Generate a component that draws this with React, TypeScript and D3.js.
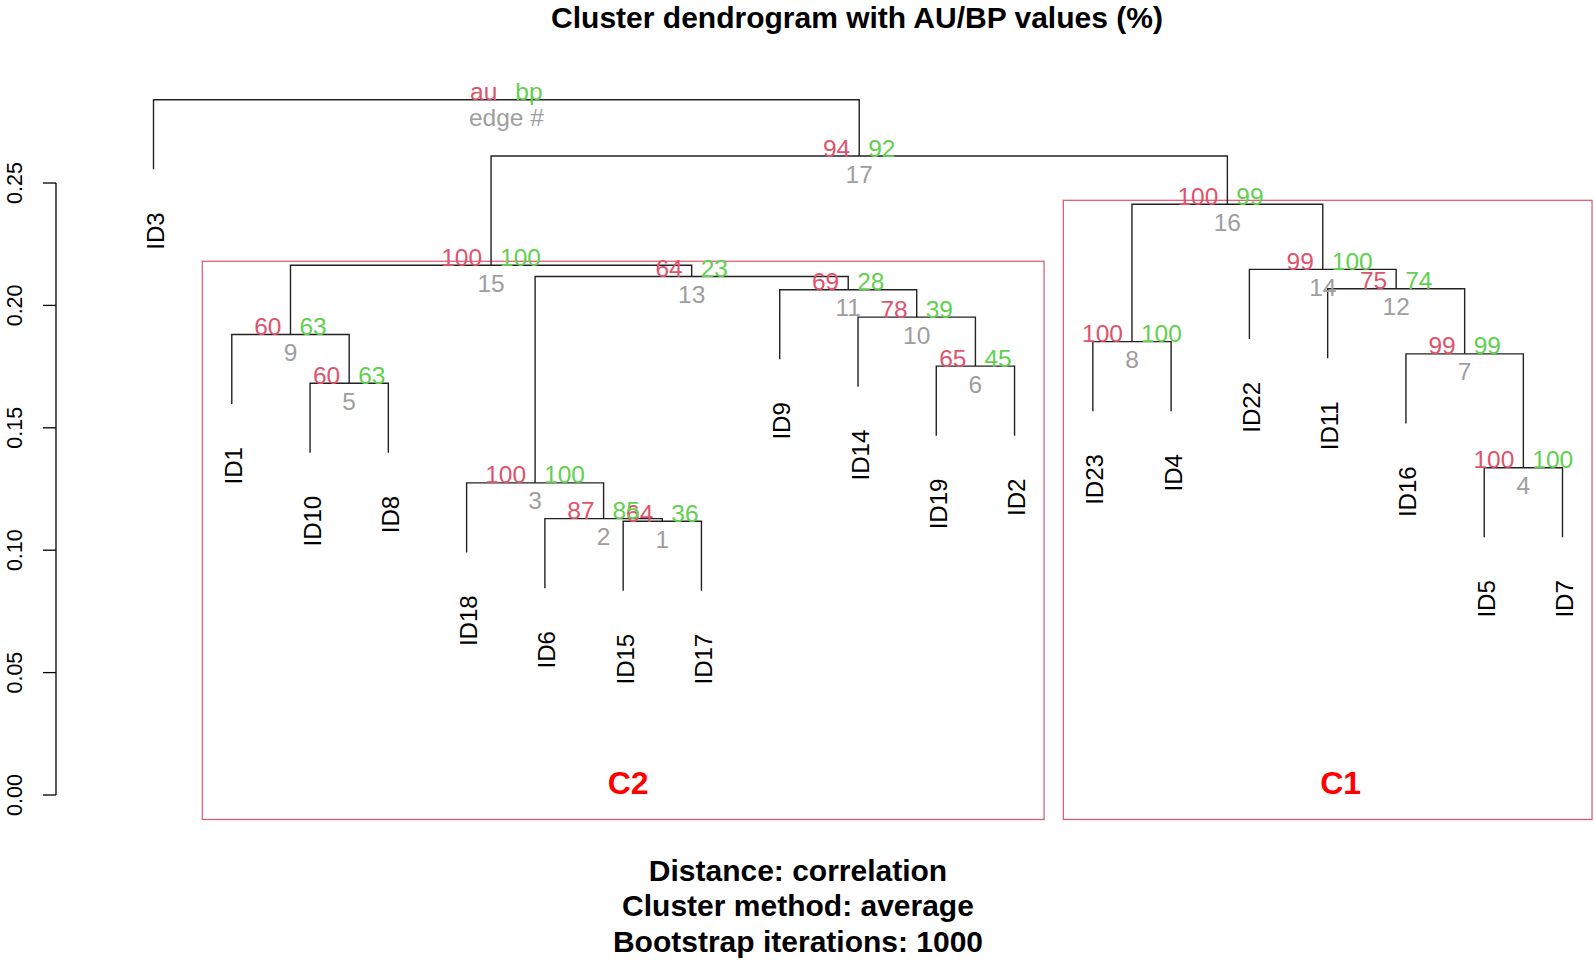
import React from "react";
import * as d3 from "d3";

const width = 1594;
const height = 962;

// leaves in plotting order
const leafOrder = [
  "ID3", "ID1", "ID10", "ID8", "ID18", "ID6", "ID15", "ID17", "ID9", "ID14",
  "ID19", "ID2", "ID23", "ID4", "ID22", "ID11", "ID16", "ID5", "ID7"
];

// merges, hclust style: a string is a leaf, a number is an earlier edge
const mergeLeft: (string | number)[] = [
  "ID15", "ID6", "ID18", "ID5", "ID10", "ID19", "ID16", "ID23", "ID1",
  "ID14", "ID9", "ID11", 3, "ID22", 9, 8, 15, "ID3"
];
const mergeRight: (string | number)[] = [
  "ID17", 1, 2, "ID7", "ID8", "ID2", 4, "ID4", 5, 6, 10, 7, 11, 12, 13, 14, 16, 17
];
const mergeHeights = [
  0.1118, 0.1129, 0.1275, 0.1337, 0.1682, 0.1752, 0.1802, 0.1852, 0.1881,
  0.1952, 0.2064, 0.2068, 0.2118, 0.2147, 0.2164, 0.2413, 0.2610, 0.2840
];
const auValues = [64, 87, 100, 100, 60, 65, 99, 100, 60, 78, 69, 75, 64, 99, 100, 100, 94];
const bpValues = [36, 85, 100, 100, 63, 45, 99, 100, 63, 39, 28, 74, 23, 100, 100, 99, 92];

// significant clusters drawn with pvrect, and their names
const clusterEdges = [15, 16];
const clusterNames = ["C2", "C1"];

const subtitleLines = [
  "Distance: correlation",
  "Cluster method: average",
  "Bootstrap iterations: 1000"
];

const auColor = "#DF536B";
const bpColor = "#61D04F";
const edgeColor = "#9E9E9E";
const font = "'Liberation Sans', Arial, Helvetica, sans-serif";

const x = d3.scaleLinear().domain([1, leafOrder.length]).range([153.5, 1562.5]);
const y = d3.scaleLinear().domain([0, 0.25]).range([795, 183]);

const maxHeight = d3.max(mergeHeights) as number;
const hang = 0.1 * maxHeight;
const floatPx = 8; // 1% of the user range
const rectPad = 4; // ywd / 200
const rectBottom = 819.5;
const labelShift = [5, 13]; // C2 / C1 text sits a bit right of the box centre

type Pos = { x: number; h: number };

function layout() {
  const nodes: Pos[] = [];
  const segs: [number, number][][] = [];
  const leafEnds: { name: string; x: number; h: number }[] = [];
  mergeHeights.forEach((h, i) => {
    const kids = [mergeLeft[i], mergeRight[i]].map((c) => {
      if (typeof c === "number") return { x: nodes[c - 1].x, top: nodes[c - 1].h };
      const lx = x(leafOrder.indexOf(c) + 1);
      leafEnds.push({ name: c, x: lx, h: h - hang });
      return { x: lx, top: h - hang };
    });
    nodes.push({ x: (kids[0].x + kids[1].x) / 2, h });
    segs.push([
      [kids[0].x, y(kids[0].top)],
      [kids[0].x, y(h)],
      [kids[1].x, y(h)],
      [kids[1].x, y(kids[1].top)]
    ]);
  });
  return { nodes, segs, leafEnds };
}

const membersOf = (e: number): string[] =>
  [mergeLeft[e - 1], mergeRight[e - 1]].flatMap((c) =>
    typeof c === "number" ? membersOf(c) : [c]
  );

export default function App() {
  const { nodes, segs, leafEnds } = layout();
  const line = d3.line();
  const mx = (x(2) - x(1)) * 0.377;
  const ticks = y.ticks(5);
  const fmt = d3.format(".2f");
  const last = nodes.length - 1;

  return (
    <svg
      width={width}
      height={height}
      style={{ position: "absolute", left: 0, top: 0, background: "#fff" }}
      fontFamily={font}
    >
      <text x={857} y={28} textAnchor="middle" fontWeight="bold" fontSize={30}>
        Cluster dendrogram with AU/BP values (%)
      </text>

      {/* y axis */}
      <g stroke="#000" strokeWidth={1.3}>
        <line x1={56} x2={56} y1={y(0)} y2={y(0.25)} />
        {ticks.map((t) => (
          <line key={t} x1={43} x2={56} y1={y(t)} y2={y(t)} />
        ))}
      </g>
      {ticks.map((t) => (
        <text
          key={t}
          transform={`translate(15,${y(t)}) rotate(-90)`}
          textAnchor="middle"
          dominantBaseline="central"
          fontSize={21.5}
        >
          {fmt(t)}
        </text>
      ))}

      {/* pvrect boxes */}
      {clusterEdges.map((e, i) => {
        const idx = membersOf(e).map((m) => leafOrder.indexOf(m) + 1);
        const x0 = x(d3.min(idx) as number) - mx;
        const x1 = x(d3.max(idx) as number) + mx;
        const top = y(mergeHeights[e - 1]) - rectPad;
        return (
          <g key={e}>
            <rect
              x={x0}
              y={top}
              width={x1 - x0}
              height={rectBottom - top}
              fill="none"
              stroke={auColor}
              strokeWidth={1.2}
            />
            <text
              x={(x0 + x1) / 2 + labelShift[i]}
              y={783}
              textAnchor="middle"
              dominantBaseline="central"
              fill="#FF0000"
              fontWeight="bold"
              fontSize={32}
            >
              {clusterNames[i]}
            </text>
          </g>
        );
      })}

      {/* tree */}
      <g fill="none" stroke="#222" strokeWidth={1.4}>
        {segs.map((s, i) => (
          <path key={i} d={line(s) as string} />
        ))}
      </g>

      {leafEnds.map((l) => (
        <text
          key={l.name}
          transform={`translate(${l.x + 2},${y(l.h) + 43}) rotate(-90)`}
          textAnchor="end"
          dominantBaseline="central"
          fontSize={24}
        >
          {l.name}
        </text>
      ))}

      {/* au / bp / edge numbers */}
      {nodes.map((n, i) => {
        const isRoot = i === last;
        return (
          <g key={i} fontSize={24.5}>
            <text
              x={n.x - 9}
              y={y(n.h) - floatPx}
              textAnchor="end"
              dominantBaseline="central"
              fill={auColor}
            >
              {isRoot ? "au" : auValues[i]}
            </text>
            <text
              x={n.x + 9}
              y={y(n.h) - floatPx}
              textAnchor="start"
              dominantBaseline="central"
              fill={bpColor}
            >
              {isRoot ? "bp" : bpValues[i]}
            </text>
            <text
              x={n.x}
              y={y(n.h) + 18}
              textAnchor="middle"
              dominantBaseline="central"
              fill={edgeColor}
            >
              {isRoot ? "edge #" : i + 1}
            </text>
          </g>
        );
      })}

      {subtitleLines.map((s, i) => (
        <text
          key={s}
          x={798}
          y={870 + i * 35.5}
          textAnchor="middle"
          dominantBaseline="central"
          fontWeight="bold"
          fontSize={30}
        >
          {s}
        </text>
      ))}
    </svg>
  );
}
